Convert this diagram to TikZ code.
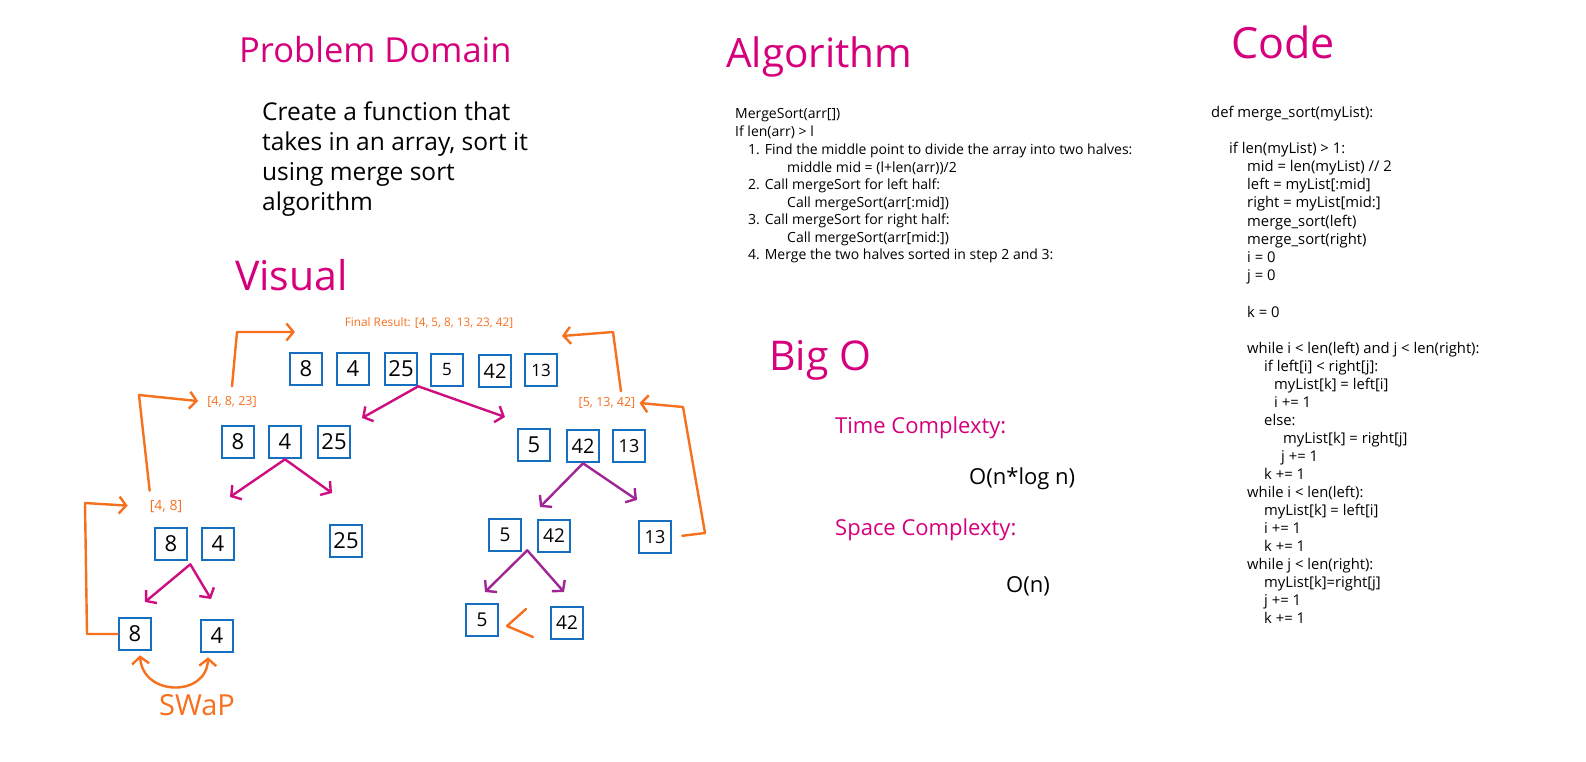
\documentclass[tikz,border=0pt]{standalone}
\usepackage{fontspec}
\setmainfont{Open Sans}
\usetikzlibrary{arrows.meta}
\definecolor{mag}{RGB}{214,0,125}
\definecolor{arrmag}{RGB}{206,14,128}
\definecolor{arrpur}{RGB}{160,38,150}
\definecolor{org}{RGB}{247,112,30}
\definecolor{bblue}{RGB}{22,110,192}
\newcommand{\myfs}[1]{\fontsize{#1}{#1}\selectfont}
\begin{document}
\begin{tikzpicture}[x=1pt,y=-1pt,
  bx/.style={draw=bblue,line width=2.6pt,minimum size=32pt,inner sep=0pt,font=\myfs{22}},
  sbx/.style={bx,font=\myfs{17}},
  title/.style={text=mag,anchor=base west,inner sep=0pt},
  txt/.style={anchor=base west,inner sep=0pt},
  tipx/.style={-{Straight Barb[length=7pt,width=17pt]}},
  marr/.style={draw=arrmag,line width=2.4pt,line cap=round,line join=round,tipx},
  parr/.style={draw=arrpur,line width=2.4pt,line cap=round,line join=round,tipx},
  oline/.style={draw=org,line width=2.4pt,line cap=round,line join=round},
  oarr/.style={oline,tipx},
  olab/.style={text=org,inner sep=0pt}
]
\fill[white] (0,0) rectangle (1586,761);
\useasboundingbox (0,0) rectangle (1586,761);

% ---------- titles ----------
\node[title,font=\myfs{34.5}] (tpd) at (239,62) {Problem Domain};
\node[title,font=\myfs{41}] (tvis) at (235,290) {Visual};
\node[title,font=\myfs{40.5}] (talg) at (726,67) {Algorithm};
\node[title,font=\myfs{43}] (tcode) at (1231,58) {Code};
\node[title,font=\myfs{41}] (tbig) at (769,370) {Big O};

% ---------- problem domain ----------
\begin{scope}[every node/.style={txt,font=\myfs{24.5}}]
\node (p1) at (262,120) {Create a function that};
\node (p2) at (262,150) {takes in an array, sort it};
\node (p3) at (262,180) {using merge sort};
\node (p4) at (262,210) {algorithm};
\end{scope}

% ---------- algorithm ----------
\begin{scope}[every node/.style={txt,font=\myfs{14}}]
\node (a01) at (735,118) {MergeSort(arr[])};
\node (a02) at (735,136) {If len(arr) > l};
\node (a03) at (748,154) {1. Find the middle point to divide the array into two halves:};
\node (a04) at (787,172) {middle mid = (l+len(arr))/2};
\node (a05) at (748,189) {2. Call mergeSort for left half:};
\node (a06) at (787,207) {Call mergeSort(arr[:mid])};
\node (a07) at (748,224) {3. Call mergeSort for right half:};
\node (a08) at (787,242) {Call mergeSort(arr[mid:])};
\node (a09) at (748,259) {4. Merge the two halves sorted in step 2 and 3:};
\end{scope}

% ---------- code ----------
\begin{scope}[every node/.style={txt,font=\myfs{14.8}}]
\node (c01) at (1211,117) {def merge\_sort(myList):};
\node (c02) at (1229,153.5) {if len(myList) > 1:};
\node (c03) at (1247,171.5) {mid = len(myList) // 2};
\node (c04) at (1247,189.5) {left = myList[:mid]};
\node (c05) at (1247,207.5) {right = myList[mid:]};
\node (c06) at (1247,226) {merge\_sort(left)};
\node (c07) at (1247,244) {merge\_sort(right)};
\node (c08) at (1247,262) {i = 0};
\node (c09) at (1247,280) {j = 0};
\node (c10) at (1247,317) {k = 0};
\node (c11) at (1247,353) {while i < len(left) and j < len(right):};
\node (c12) at (1264,371) {if left[i] < right[j]:};
\node (c13) at (1274,389) {myList[k] = left[i]};
\node (c14) at (1274,407) {i += 1};
\node (c15) at (1264,425) {else:};
\node (c16) at (1283,443) {myList[k] = right[j]};
\node (c17) at (1281,461) {j += 1};
\node (c18) at (1264,479) {k += 1};
\node (c19) at (1247,497) {while i < len(left):};
\node (c20) at (1264,515) {myList[k] = left[i]};
\node (c21) at (1264,533) {i += 1};
\node (c22) at (1264,551) {k += 1};
\node (c23) at (1247,569) {while j < len(right):};
\node (c24) at (1264,587) {myList[k]=right[j]};
\node (c25) at (1264,605) {j += 1};
\node (c26) at (1264,623) {k += 1};
\end{scope}

% ---------- big O ----------
\node[title,font=\myfs{22}] (btime) at (835,433) {Time Complexty:};
\node[txt,font=\myfs{22}] (btv) at (969,484) {O(n*log n)};
\node[title,font=\myfs{22}] (bspace) at (835,535) {Space Complexty:};
\node[txt,font=\myfs{22}] (bsv) at (1006,592) {O(n)};

% ---------- boxes ----------
\node[bx] (t1) at (306,369) {8};
\node[bx] (t2) at (353,369) {4};
\node[bx] (t3) at (401,369) {25};
\node[sbx] (t4) at (447,370) {5};
\node[bx,font=\myfs{20}] (t5) at (495,371) {42};
\node[sbx] (t6) at (541,370) {13};

\node[bx] (l2a) at (238,442) {8};
\node[bx] (l2b) at (285,442) {4};
\node[bx] (l2c) at (334,442) {25};
\node[bx] (r2a) at (534,445) {5};
\node[bx,font=\myfs{20}] (r2b) at (583,446) {42};
\node[bx,font=\myfs{18}] (r2c) at (629,446) {13};

\node[bx] (l3a) at (171,544) {8};
\node[bx] (l3b) at (218,544) {4};
\node[bx] (l3c) at (346,541) {25};
\node[bx,font=\myfs{19}] (r3a) at (505,535) {5};
\node[bx,font=\myfs{19}] (r3b) at (554,536) {42};
\node[bx,font=\myfs{18}] (r3c) at (655,537) {13};

\node[bx] (l4a) at (135,634) {8};
\node[bx] (l4b) at (217,636) {4};
\node[bx,font=\myfs{19}] (r4a) at (482,620) {5};
\node[bx,font=\myfs{19}] (r4b) at (567,623) {42};

% ---------- orange labels ----------
\node[olab,font=\myfs{11.8}] (lfin) at (429,323) {Final Result: [4, 5, 8, 13, 23, 42]};
\node[olab,font=\myfs{12.5}] (l4823) at (232,402) {[4, 8, 23]};
\node[olab,font=\myfs{14}] (l48) at (166,507) {[4, 8]};
\node[olab,font=\myfs{12.5}] (l51342) at (607,403) {[5, 13, 42]};
\node[olab,font=\myfs{29}] (swap) at (197,705) {SWaP};

% ---------- tree arrows ----------
\coordinate (k1) at (362,418);
\coordinate (k2) at (505,417);
\coordinate (k3) at (230,497);
\coordinate (k4) at (332,493);
\coordinate (k5) at (540,507);
\coordinate (k6) at (637,500);
\coordinate (k7) at (145,602);
\coordinate (k8) at (211,599);
\coordinate (k9) at (485,592);
\coordinate (k10) at (564,592);
\draw[marr] (t3.south east) -- (k1);
\draw[marr] (t3.south east) -- (k2);
\draw[marr] (l2b.south) -- (k3);
\draw[marr] (l2b.south) -- (k4);
\draw[parr] (r2b.south) -- (k5);
\draw[parr] (r2b.south) -- (k6);
\draw[marr] ([xshift=2pt,yshift=-3pt]l3a.south east) -- (k7);
\draw[marr] ([xshift=2pt,yshift=-3pt]l3a.south east) -- (k8);
\draw[parr] ([xshift=5pt,yshift=2pt]r3a.south east) -- (k9);
\draw[parr] ([xshift=5pt,yshift=2pt]r3a.south east) -- (k10);

% ---------- orange connectors ----------
\coordinate (e1) at (295,332);
\coordinate (e2) at (562,336);
\draw[oarr,shorten >=22pt] (l4a.west) -- (87,634) -- (85,503) -- (l48.west);
\draw[oarr,shorten >=9pt] ([yshift=10pt]l48.north west) -- (139,395) -- (l4823.west);
\draw[oarr] ([yshift=10pt]l4823.north) -- (237,332) -- (e1);
\draw[oarr,shorten <=10pt] (r3c.east) -- (705,533) -- (683,407) -- ([xshift=4pt]l51342.east);
\draw[oarr] ([xshift=14pt,yshift=6pt]l51342.north) -- (613,332) -- (e2);
\draw[oline,{Straight Barb[length=7pt,width=17pt]}-{Straight Barb[length=7pt,width=17pt]}]
  ([xshift=5pt,yshift=-4pt]l4a.south) .. controls (143,697) and (207,697) .. ([xshift=-9pt,yshift=-4pt]l4b.south);
\draw[oline] (526,609) -- (507,626) -- (533,637);
\end{tikzpicture}
\end{document}
